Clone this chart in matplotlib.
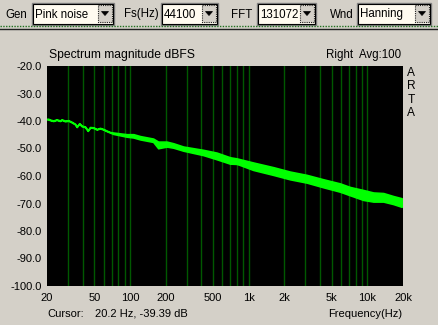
import matplotlib
matplotlib.use("Agg")
import matplotlib.pyplot as plt
from matplotlib.patches import Rectangle, Polygon
from matplotlib.ticker import NullFormatter

# ---------------- data ----------------
freq_hz = [20.0, 20.5, 21.2, 22.6, 24.1, 25.7, 26.6, 28.4, 30.2, 32.3, 34.4, 35.6,
           37.4, 39.2, 41.8, 44.1, 46.1, 49.1, 52.5, 55.9, 59.6, 63.7, 67.9, 72.4,
           82.5, 93.9, 107, 122, 157, 173, 204, 232, 282, 342, 415, 538, 697, 794,
           846, 1095, 1615, 2232, 3086, 4260, 5890, 7152, 9260, 11240, 13646,
           16570, 19504]
upper_db = [-39.2, -39.2, -39.5, -39.8, -39.4, -39.8, -39.4, -39.9, -39.7, -40.3,
            -41.0, -42.0, -40.8, -41.7, -42.0, -43.4, -42.2, -42.3, -42.9, -42.5,
            -42.9, -43.5, -44.0, -44.2, -44.5, -44.8, -44.8, -45.5, -46.4, -47.5,
            -47.5, -48.1, -49.3, -49.9, -50.5, -51.5, -53.2, -53.6,
            -53.9, -55.1, -56.8, -58.4, -59.6, -61.2, -62.7, -64.0, -65.1, -66.0,
            -66.2, -67.3, -68.1]
lower_db = [-39.4, -39.4, -39.7, -40.0, -39.6, -40.0, -39.6, -40.1, -39.9, -40.5,
            -41.2, -42.2, -41.0, -41.9, -42.2, -43.6, -42.4, -42.5, -43.1, -42.7,
            -43.1, -43.7, -44.2, -44.7, -45.2, -45.7, -46.0, -46.7, -47.6, -49.9,
            -49.3, -49.7, -50.8, -51.6, -52.4, -53.9, -55.5, -55.6,
            -56.0, -57.8, -59.6, -61.2, -62.4, -64.1, -65.7, -67.0, -68.7, -69.3,
            -69.3, -70.2, -71.2]

y_ticks = [-20, -30, -40, -50, -60, -70, -80, -90, -100]
y_tick_labels = ["-20.0", "-30.0", "-40.0", "-50.0", "-60.0", "-70.0", "-80.0",
                 "-90.0", "-100.0"]
x_ticks = [20, 50, 100, 200, 500, 1000, 2000, 5000, 10000, 20000]
x_tick_labels = ["20", "50", "100", "200", "500", "1k", "2k", "5k", "10k", "20k"]
x_grid = [30, 40, 50, 60, 70, 80, 90, 100, 200, 300, 400, 500, 600, 700, 800, 900,
          1000, 2000, 3000, 4000, 5000, 6000, 7000, 8000, 9000, 10000]
y_grid = [-30, -40, -50, -60, -70, -80, -90]

toolbar_labels = ["Gen", "Fs(Hz)", "FFT", "Wnd"]
toolbar_values = ["Pink noise", "44100", "131072", "Hanning"]

title = "Spectrum magnitude dBFS"
channel_info = "Right  Avg:100"
brand = "ARTA"
cursor_label = "Cursor:"
cursor_value = "20.2 Hz, -39.39 dB"
x_label = "Frequency(Hz)"

# ---------------- figure ----------------
W, H = 438, 325
BG = "#D4D0C8"
FONT = "Liberation Sans"
FS = 8.0
fig = plt.figure(figsize=(W / 100, H / 100), dpi=100, facecolor=BG)

ui = fig.add_axes([0, 0, 1, 1])
ui.set_xlim(0, W)
ui.set_ylim(H, 0)
ui.axis("off")
ui.set_facecolor(BG)

# toolbar
label_x = [5, 124, 231, 330]
box_x = [(32, 114), (161, 218), (257, 316), (357, 431)]
for lab, val, lx, (x0, x1) in zip(toolbar_labels, toolbar_values, label_x, box_x):
    ui.text(lx, 14.5, lab, fontsize=FS + 0.3, family=FONT, va="center", ha="left")
    ui.add_patch(Rectangle((x0, 3), x1 - x0, 22, facecolor="#FFFBF0",
                           edgecolor="#808080", lw=1))
    ui.add_patch(Rectangle((x0 + 1, 4), x1 - x0 - 2, 20, facecolor="none",
                           edgecolor="#000000", lw=0.8))
    ui.text(x0 + 3, 14.5, val, fontsize=FS + 0.3, family=FONT, va="center",
            ha="left")
    bx0 = x1 - 16
    ui.add_patch(Rectangle((bx0, 5), 14, 17, facecolor=BG, edgecolor="#202020",
                           lw=0.8, ls=(0, (1, 1))))
    ui.add_patch(Polygon([[bx0 + 3.5, 11.5], [bx0 + 10.5, 11.5], [bx0 + 7, 15.5]],
                         closed=True, facecolor="black", edgecolor="black", lw=0.5))

ui.plot([0, W], [26, 26], color="#207020", lw=1, ls=(0, (1, 1)))
ui.plot([0, W], [28.5, 28.5], color="#202020", lw=1)

# captions around the plot
ui.text(49, 55, title, fontsize=FS + 0.7, family=FONT, va="center", ha="left")
ui.text(401, 55, channel_info, fontsize=FS + 0.3, family=FONT, va="center",
        ha="right")
for i, ch in enumerate(brand):
    ui.text(411, 73 + i * 13.3, ch, fontsize=FS + 0.6, family=FONT, va="center",
            ha="center")
ui.text(47, 314, cursor_label, fontsize=FS, family=FONT, va="center", ha="left")
ui.text(95, 314, cursor_value, fontsize=FS, family=FONT, va="center", ha="left")
ui.text(402, 314, x_label, fontsize=FS, family=FONT, va="center", ha="right")

# ---------------- spectrum axes ----------------
L, R, T, B = 47, 403, 66, 286
ax = fig.add_axes([L / W, 1 - B / H, (R - L) / W, (B - T) / H])
ax.set_facecolor("black")
ax.set_xscale("log")
ax.set_xlim(20, 20000)
ax.set_ylim(-100, -20)
for s in ax.spines.values():
    s.set_visible(False)

ax.xaxis.remove_overlapping_locs = False
ax.set_xticks(x_ticks)
ax.set_xticklabels(x_tick_labels, family=FONT, fontsize=FS)
ax.set_xticks(x_grid, minor=True)
ax.xaxis.set_minor_formatter(NullFormatter())
ax.set_yticks(y_ticks)
ax.set_yticklabels(y_tick_labels, family=FONT, fontsize=FS)
ax.set_yticks(y_grid, minor=True)
ax.tick_params(which="both", length=0)
ax.tick_params(axis="x", pad=5)
ax.tick_params(axis="y", pad=4)
ax.grid(which="minor", color="#005800", lw=1)
ax.grid(which="major", visible=False)

ax.fill_between(freq_hz, lower_db, upper_db, facecolor="#00FF00",
                edgecolor="#00FF00", lw=1.2, zorder=3)

fig.savefig("out.png", dpi=100, facecolor=BG)
